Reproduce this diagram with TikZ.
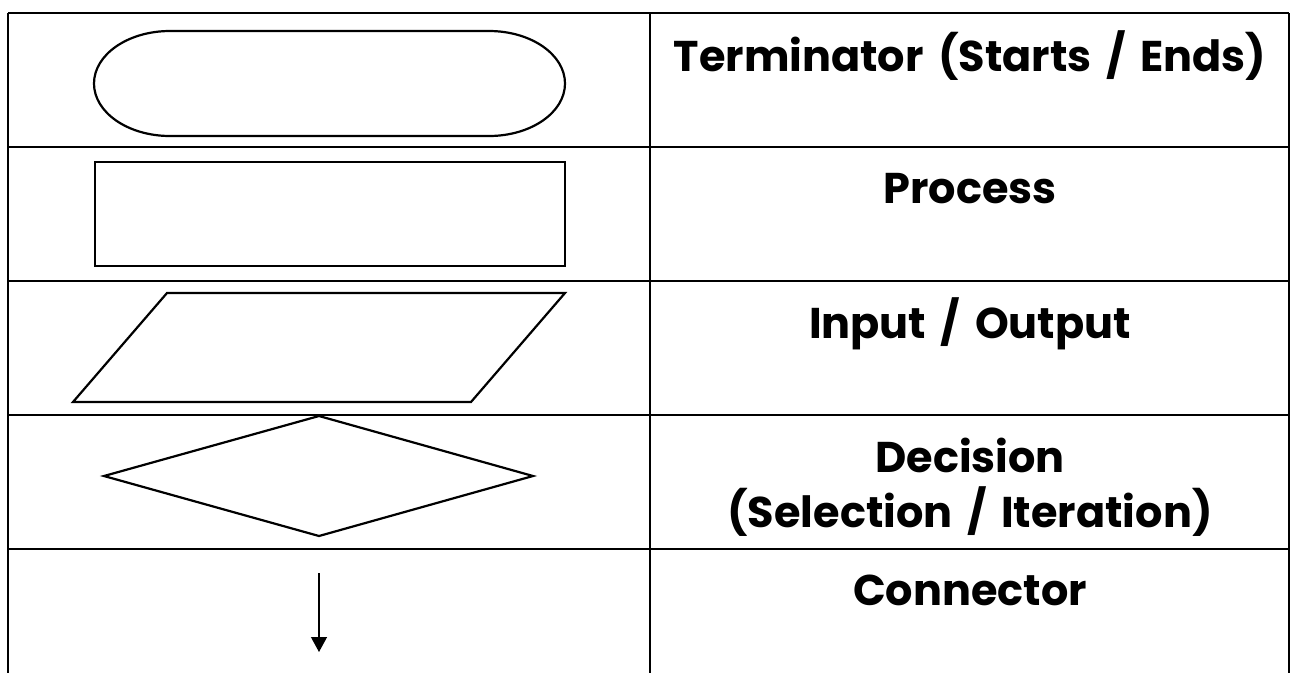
\documentclass[tikz,border=0pt]{standalone}
\usepackage{fontspec}
\setmainfont{Poppins}[WordSpace=1.6]
\usetikzlibrary{arrows.meta}
\tikzset{
  grid/.style={line width=2.2pt, black},
  shapeline/.style={line width=2.2pt, black, line join=miter},
  lab/.style={font=\fontsize{43}{52}\selectfont\bfseries, inner sep=0pt, anchor=base},
  conn/.style={line width=1.2pt, -{Triangle[width=16pt,length=15pt]}}
}
\begin{document}
\begin{tikzpicture}[x=1pt,y=1pt]
\useasboundingbox (0,0) rectangle (1296,-673);
% grid
\foreach \yy in {13,147,281,415,549}{
  \draw[grid] (8,-\yy) -- (1289,-\yy);
}
\draw[grid] (8,-13) -- (8,-673);
\draw[grid] (650,-13) -- (650,-673);
\draw[grid] (1289,-13) -- (1289,-673);
% terminator
\draw[shapeline] (170,-31) -- (489,-31)
  arc[start angle=90, end angle=-90, x radius=76, y radius=52.5]
  -- (170,-136)
  arc[start angle=270, end angle=90, x radius=76, y radius=52.5] -- cycle;
% process
\draw[shapeline] (95,-162) rectangle (565,-266);
% input/output
\draw[shapeline] (167,-293) -- (565,-293) -- (471,-402) -- (73,-402) -- cycle;
% decision
\draw[shapeline] (319,-416) -- (533,-476) -- (319,-536) -- (104,-476) -- cycle;
% connector
\coordinate (cs) at (319,-573);
\coordinate (ce) at (319,-652);
\draw[conn] (cs) -- (ce);
% labels
\node[lab] (t1) at (970,-71) {Terminator (Starts / Ends)};
\node[lab] (t2) at (970,-203) {Process};
\node[lab] (t3) at (970,-338) {Input / Output};
\node[lab] (t4) at (970,-472) {Decision};
\node[lab] (t5) at (970,-527) {(Selection / Iteration)};
\node[lab] (t6) at (970,-605) {Connector};
\end{tikzpicture}
\end{document}
